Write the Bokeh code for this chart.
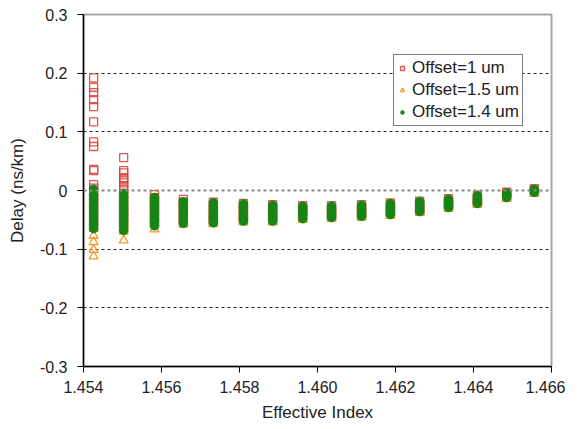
from bokeh.plotting import figure
from bokeh.models import Range1d, FixedTicker, Span, Legend, LegendItem, ColumnDataSource
from bokeh.embed import file_html
from bokeh.resources import INLINE

# Effective index of each measurement column
col_x = [1.45426, 1.45503, 1.45582, 1.45656, 1.45733, 1.45810, 1.45885, 1.45962,
         1.46036, 1.46113, 1.46187, 1.46262, 1.46336, 1.46410, 1.46485, 1.46556]

# Delay (ns/km), per column, Offset = 1 um
red_y = [
    [0.192, 0.176, 0.167, 0.155, 0.143, 0.117, 0.083, 0.075, 0.036, 0.034, 0.010, 0.004,
     -0.005, -0.012, -0.020, -0.030, -0.040, -0.050, -0.060],
    [0.056, 0.034, 0.030, 0.022, 0.018, 0.013, 0.007, 0.002, -0.005, -0.015, -0.025,
     -0.035, -0.045, -0.055, -0.065],
    [-0.007, -0.012, -0.018, -0.025, -0.032, -0.040, -0.048, -0.055],
    [-0.015, -0.020, -0.026, -0.033, -0.040, -0.047, -0.053],
    [-0.020, -0.025, -0.031, -0.037, -0.043, -0.049, -0.053],
    [-0.022, -0.027, -0.033, -0.039, -0.045, -0.050],
    [-0.024, -0.029, -0.035, -0.041, -0.047, -0.051],
    [-0.026, -0.031, -0.036, -0.041, -0.046],
    [-0.026, -0.031, -0.036, -0.041, -0.045],
    [-0.024, -0.029, -0.034, -0.039, -0.043],
    [-0.021, -0.026, -0.031, -0.036, -0.040],
    [-0.018, -0.023, -0.028, -0.033, -0.035],
    [-0.014, -0.019, -0.024, -0.028],
    [-0.008, -0.013, -0.018, -0.022],
    [-0.003, -0.007, -0.011],
    [0.003, 0.000, -0.003],
]

# Offset = 1.5 um
orange_y = [
    [-0.005, -0.015, -0.025, -0.035, -0.045, -0.055, -0.065, -0.077, -0.088, -0.101, -0.112],
    [-0.010, -0.020, -0.030, -0.040, -0.050, -0.060, -0.070, -0.085],
    [-0.015, -0.025, -0.035, -0.045, -0.055, -0.066],
    [-0.022, -0.030, -0.040, -0.050, -0.058],
    [-0.025, -0.033, -0.042, -0.050, -0.057],
    [-0.027, -0.035, -0.043, -0.054],
    [-0.028, -0.036, -0.044, -0.054],
    [-0.029, -0.037, -0.044, -0.050],
    [-0.028, -0.035, -0.042, -0.048],
    [-0.026, -0.033, -0.040, -0.046],
    [-0.023, -0.030, -0.037, -0.043],
    [-0.020, -0.027, -0.033, -0.038],
    [-0.016, -0.022, -0.027, -0.031],
    [-0.010, -0.016, -0.021, -0.024],
    [-0.005, -0.009, -0.014],
    [0.001, -0.002, -0.005],
]

# Offset = 1.4 um
green_y = [
    [0.002, -0.008, -0.015, -0.022, -0.028, -0.034, -0.040, -0.046, -0.052, -0.058, -0.065],
    [-0.005, -0.012, -0.018, -0.024, -0.030, -0.036, -0.042, -0.048, -0.054, -0.060, -0.068],
    [-0.012, -0.018, -0.024, -0.030, -0.036, -0.042, -0.048, -0.054, -0.060],
    [-0.019, -0.025, -0.031, -0.037, -0.043, -0.049, -0.056],
    [-0.021, -0.027, -0.033, -0.039, -0.045, -0.050, -0.055],
    [-0.023, -0.029, -0.035, -0.041, -0.047, -0.052],
    [-0.025, -0.031, -0.037, -0.043, -0.048, -0.052],
    [-0.027, -0.032, -0.037, -0.042, -0.048],
    [-0.027, -0.032, -0.037, -0.042, -0.046],
    [-0.025, -0.030, -0.035, -0.040, -0.044],
    [-0.022, -0.027, -0.032, -0.037, -0.041],
    [-0.019, -0.024, -0.029, -0.033, -0.036],
    [-0.015, -0.020, -0.025, -0.029],
    [-0.009, -0.014, -0.019, -0.022],
    [-0.004, -0.008, -0.012],
    [0.002, -0.001, -0.003],
]

x_ticks = [1.454, 1.456, 1.458, 1.460, 1.462, 1.464, 1.466]
y_ticks = [-0.3, -0.2, -0.1, 0.0, 0.1, 0.2, 0.3]
y_tick_labels = {-0.3: "-0.3", -0.2: "-0.2", -0.1: "-0.1", 0.0: "0", 0.1: "0.1", 0.2: "0.2", 0.3: "0.3"}
series_names = ["Offset=1 um", "Offset=1.5 um", "Offset=1.4 um"]


def flatten(cols):
    xs, ys = [], []
    for cx, vals in zip(col_x, cols):
        for v in vals:
            xs.append(cx)
            ys.append(v)
    return dict(x=xs, y=ys)


FONT = "Liberation Sans"

p = figure(frame_width=468, frame_height=352, output_backend="svg", toolbar_location=None,
           x_range=Range1d(1.454, 1.466), y_range=Range1d(-0.3, 0.3),
           min_border_left=83, min_border_right=14, min_border_top=14, min_border_bottom=50)
p.background_fill_color = "white"
p.border_fill_color = "white"
p.outline_line_color = "#a8a8a8"
p.outline_line_width = 2

# grid
p.xgrid.visible = False
p.ygrid.ticker = FixedTicker(ticks=[-0.2, -0.1, 0.1, 0.2])
p.ygrid.grid_line_color = "#222222"
p.ygrid.grid_line_dash = "3 3"
p.ygrid.grid_line_width = 1
zero = Span(location=0, dimension="width", line_color="#888888", line_width=2, line_dash="3 3")
p.add_layout(zero)

# axes
for ax in (p.xaxis[0], p.yaxis[0]):
    ax.axis_line_color = "black"
    ax.axis_line_width = 1.5
    ax.major_tick_line_color = "black"
    ax.major_tick_out = 6
    ax.major_tick_in = 0
    ax.minor_tick_line_color = None
    ax.major_label_text_font = FONT
    ax.major_label_text_font_size = "16px"
    ax.major_label_text_color = "#222222"
    ax.axis_label_text_font = FONT
    ax.axis_label_text_font_size = "17px"
    ax.axis_label_text_font_style = "normal"
    ax.axis_label_text_color = "#222222"

p.xaxis.ticker = FixedTicker(ticks=x_ticks)
p.xaxis.major_label_overrides = {t: f"{t:.3f}" for t in x_ticks}
p.xaxis.axis_label = "Effective Index"
p.xaxis.major_label_standoff = 8
p.xaxis.axis_label_standoff = 7

p.yaxis.ticker = FixedTicker(ticks=y_ticks)
p.yaxis.major_label_overrides = y_tick_labels
p.yaxis.axis_label = "Delay (ns/km)"
p.yaxis.major_label_standoff = 10
p.yaxis.axis_label_standoff = 10

src_r = ColumnDataSource(flatten(red_y))
src_o = ColumnDataSource(flatten(orange_y))
src_g = ColumnDataSource(flatten(green_y))

r1 = p.scatter("x", "y", source=src_r, marker="square", size=8, fill_color=None,
               line_color="#e03a30", line_width=1.3, line_alpha=0.85)
r2 = p.scatter("x", "y", source=src_o, marker="triangle", size=9, fill_color=None,
               line_color="#f39a1e", line_width=1.3)
r3 = p.scatter("x", "y", source=src_g, marker="circle", size=9, fill_color="#168516",
               line_color="#168516", line_width=0.5)

legend = Legend(items=[LegendItem(label=series_names[0], renderers=[r1]),
                       LegendItem(label=series_names[1], renderers=[r2]),
                       LegendItem(label=series_names[2], renderers=[r3])],
                location=(310, 240))
legend.border_line_color = "black"
legend.border_line_width = 1
legend.background_fill_color = "white"
legend.background_fill_alpha = 1
legend.label_text_font = FONT
legend.label_text_font_size = "17px"
legend.label_text_color = "#222222"
legend.glyph_width = 10
legend.glyph_height = 12
legend.label_height = 20
legend.spacing = 2
legend.padding = 3
legend.label_standoff = 5
legend.margin = 0
p.add_layout(legend)

open("out.html", "w").write(file_html(p, INLINE))
